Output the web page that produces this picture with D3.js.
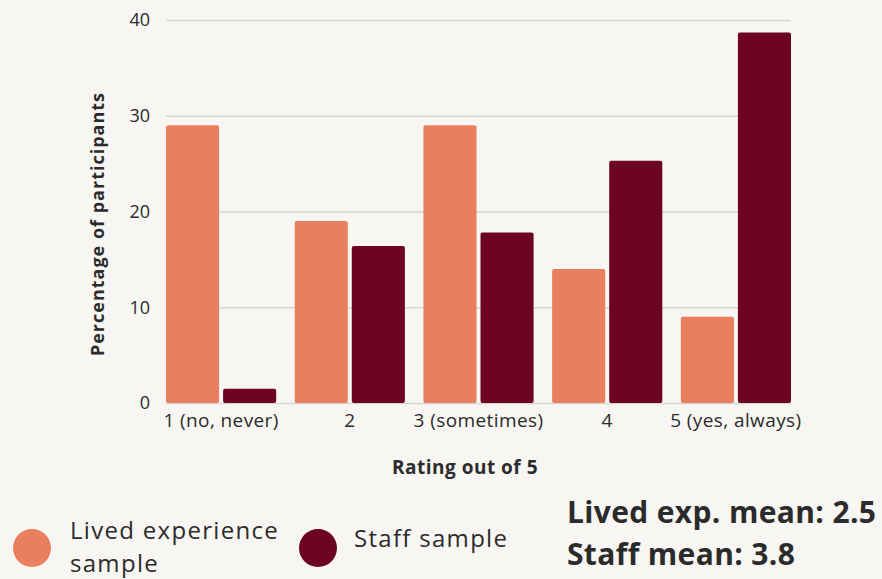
<!DOCTYPE html>
<html>
<head>
<meta charset="utf-8">
<script src="https://cdn.jsdelivr.net/npm/d3@7"></script>
<style>
  html, body { margin: 0; padding: 0; background: #f7f6f2; }
  svg { display: block; }
  text { font-family: "Open Sans", "Noto Sans", sans-serif; fill: #2b2b2b; }
</style>
</head>
<body>
<svg id="chart" width="882" height="579"></svg>
<script>
const categories = ["1 (no, never)", "2", "3 (sometimes)", "4", "5 (yes, always)"];
const seriesNames = ["Lived experience sample", "Staff sample"];
const livedValues = [29, 19, 29, 14, 9];
const staffValues = [1.5, 16.4, 17.8, 25.3, 38.7];
const yTicks = [0, 10, 20, 30, 40];
const colors = ["#e97f5f", "#6d0423"];
const meanLines = ["Lived exp. mean: 2.5", "Staff mean: 3.8"];

(function () {
const svg = d3.select("#chart");
const W = 882, H = 579;
svg.append("rect").attr("width", W).attr("height", H).attr("fill", "#f7f6f2");

const pLeft = 166, pRight = 791, pTop = 20, pBottom = 403;

const x0 = d3.scaleBand().domain(categories).range([pLeft, pRight]).paddingInner(0.144).paddingOuter(0);
const x1 = d3.scaleBand().domain([0, 1]).range([0, x0.bandwidth()]).paddingInner(0.07);
const y = d3.scaleLinear().domain([0, 40]).range([pBottom, pTop]);

// grid
const yAxis = d3.axisLeft(y).tickValues(yTicks).tickSize(-(pRight - pLeft)).tickPadding(16);
const gy = svg.append("g").attr("transform", `translate(${pLeft},0)`).call(yAxis);
gy.select(".domain").remove();
gy.selectAll(".tick line").attr("stroke", "#d6d5d2").attr("stroke-width", 1.5);
gy.selectAll(".tick text").style("font-size", "18px").attr("fill", "#2b2b2b").style("font-family", '"Open Sans", sans-serif');

// bars
const data = categories.map((c, i) => ({ c, vals: [livedValues[i], staffValues[i]] }));
const groups = svg.append("g").selectAll("g").data(data).join("g")
  .attr("transform", d => `translate(${x0(d.c)},0)`);
groups.selectAll("rect").data(d => d.vals.map((v, k) => ({ v, k }))).join("rect")
  .attr("x", d => x1(d.k))
  .attr("width", x1.bandwidth())
  .attr("y", d => y(d.v))
  .attr("height", d => y(0) - y(d.v))
  .attr("rx", 2)
  .attr("fill", d => colors[d.k]);

// x axis labels
const xAxis = d3.axisBottom(x0).tickSize(0).tickPadding(11);
const gx = svg.append("g").attr("transform", `translate(0,${pBottom})`).call(xAxis);
gx.select(".domain").remove();
gx.selectAll(".tick text").style("font-size", "19px").attr("fill", "#2b2b2b")
  .style("letter-spacing", "0.4px").style("font-family", '"Open Sans", sans-serif');

// axis titles
svg.append("text").attr("x", 465).attr("y", 474).attr("text-anchor", "middle")
  .style("font-size", "19px").style("font-weight", "bold").style("letter-spacing", "0.5px").text("Rating out of 5");
svg.append("text").attr("transform", `translate(104,224) rotate(-90)`).attr("text-anchor", "middle")
  .style("font-size", "18px").style("font-weight", "bold").style("letter-spacing", "1px").text("Percentage of participants");

// legend
const leg = svg.append("g");
leg.append("circle").attr("cx", 32).attr("cy", 548).attr("r", 19).attr("fill", colors[0]);
leg.append("text").attr("x", 70).attr("y", 539).style("font-size", "24px").style("letter-spacing", "1.3px").text("Lived experience");
leg.append("text").attr("x", 70).attr("y", 572).style("font-size", "24px").style("letter-spacing", "1.3px").text("sample");
leg.append("circle").attr("cx", 318).attr("cy", 548).attr("r", 19).attr("fill", colors[1]);
leg.append("text").attr("x", 354).attr("y", 547).style("font-size", "24px").style("letter-spacing", "1.3px").text(seriesNames[1]);

// means
svg.append("text").attr("x", 567).attr("y", 523).style("font-size", "30px").style("font-weight", "bold").style("letter-spacing", "0.35px").text(meanLines[0]);
svg.append("text").attr("x", 567).attr("y", 565).style("font-size", "30px").style("font-weight", "bold").style("letter-spacing", "0.35px").text(meanLines[1]);
})();
</script>
</body>
</html>
